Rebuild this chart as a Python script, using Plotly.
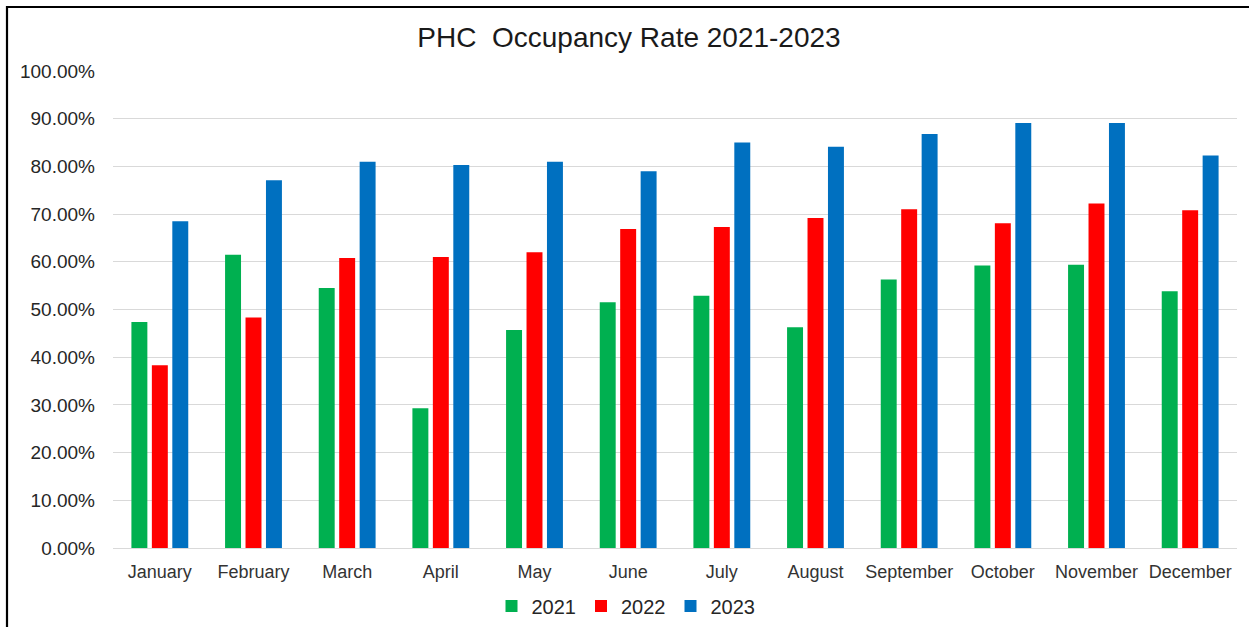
import plotly.graph_objects as go

# Monthly occupancy rates (fractions) by year
months = ["January", "February", "March", "April", "May", "June",
          "July", "August", "September", "October", "November", "December"]
rate_2021 = [0.474, 0.615, 0.545, 0.293, 0.457, 0.515,
             0.529, 0.463, 0.563, 0.592, 0.594, 0.538]
rate_2022 = [0.383, 0.483, 0.608, 0.610, 0.620, 0.669,
             0.673, 0.692, 0.710, 0.681, 0.722, 0.708]
rate_2023 = [0.685, 0.771, 0.810, 0.803, 0.810, 0.790,
             0.850, 0.841, 0.868, 0.891, 0.891, 0.823]
y_ticks = [0.0, 0.1, 0.2, 0.3, 0.4, 0.5, 0.6, 0.7, 0.8, 0.9, 1.0]

series = [("2021", rate_2021, "#00B050"),
          ("2022", rate_2022, "#FF0000"),
          ("2023", rate_2023, "#0070C0")]

W, H = 1249, 627
ML, MR, MT, MB = 113, 12, 71, 79
PW, PH = W - ML - MR, H - MT - MB
FONT = "Liberation Sans, Arial, sans-serif"


def px_to_paper(x, y):
    return (x - ML) / PW, (H - MB - y) / PH


fig = go.Figure()
for name, vals, color in series:
    fig.add_trace(go.Bar(name=name, x=months, y=vals,
                         marker=dict(color=color, line=dict(width=0))))

# outer frame (left and top edges)
x0, y0 = px_to_paper(7, 7)
x1, _ = px_to_paper(W + 20, 7)
_, y1 = px_to_paper(7, H + 20)
fig.add_shape(type="path", xref="paper", yref="paper",
              path=f"M {x0} {y1} L {x0} {y0} L {x1} {y0}",
              line=dict(color="black", width=2.2))

lx, _ = px_to_paper(626, 0)
fig.update_layout(
    width=W, height=H,
    margin=dict(l=ML, r=MR, t=MT, b=MB, autoexpand=False),
    paper_bgcolor="white", plot_bgcolor="white",
    barmode="group", bargap=0.345, bargroupgap=0.22,
    font=dict(family=FONT, color="#262626"),
    title=dict(text="PHC  Occupancy Rate 2021-2023",
               font=dict(family=FONT, size=28, color="#1a1a1a"),
               x=629 / W, xref="container", xanchor="center",
               y=1 - 37 / H, yref="container", yanchor="middle"),
    xaxis=dict(showgrid=False, showline=True, linecolor="#d9d9d9", linewidth=1,
               tickfont=dict(size=18, color="#333333"), ticks="",
               ticklabelstandoff=7, automargin=False),
    yaxis=dict(range=[0, 1], tickvals=y_ticks, tickformat=".2%",
               showgrid=True, gridcolor="#d9d9d9", gridwidth=1,
               zeroline=False, showline=False, ticks="",
               tickfont=dict(size=19, color="#262626"),
               ticklabelstandoff=17, automargin=False),
    legend=dict(orientation="h", x=lx, xanchor="center",
                yref="container", y=1 - 606 / H, yanchor="middle",
                font=dict(size=20, color="#262626"),
                itemwidth=30, tracegroupgap=0),
    showlegend=True,
)

fig.write_html("out.html")
